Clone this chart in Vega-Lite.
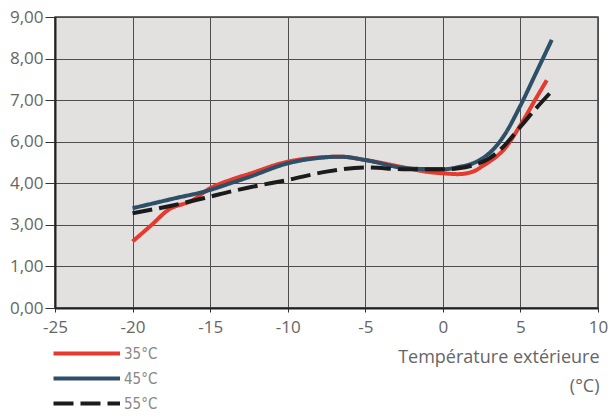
{
  "$schema": "https://vega.github.io/schema/vega-lite/v6.json",
  "width": 543,
  "height": 291,
  "autosize": {"type": "none"},
  "padding": {"left": 55, "top": 17, "right": 11, "bottom": 110},
  "background": "white",
  "config": {
    "view": {"fill": "#e3e1df", "stroke": "#3a3a3a", "strokeWidth": 1.5},
    "font": "Open Sans"
  },
  "data": {
    "values": [
      {"t": -20, "cop": 2.2, "serie": "35°C"},
      {"t": -18.8, "cop": 2.98, "serie": "35°C"},
      {"t": -17.7, "cop": 3.36, "serie": "35°C"},
      {"t": -16.2, "cop": 3.58, "serie": "35°C"},
      {"t": -15, "cop": 3.88, "serie": "35°C"},
      {"t": -13.7, "cop": 4.16, "serie": "35°C"},
      {"t": -12.5, "cop": 4.45, "serie": "35°C"},
      {"t": -10, "cop": 5.04, "serie": "35°C"},
      {"t": -8, "cop": 5.24, "serie": "35°C"},
      {"t": -6.6, "cop": 5.28, "serie": "35°C"},
      {"t": -5, "cop": 5.12, "serie": "35°C"},
      {"t": -2.75, "cop": 4.8, "serie": "35°C"},
      {"t": -1, "cop": 4.55, "serie": "35°C"},
      {"t": 0, "cop": 4.48, "serie": "35°C"},
      {"t": 1, "cop": 4.44, "serie": "35°C"},
      {"t": 2, "cop": 4.58, "serie": "35°C"},
      {"t": 2.6, "cop": 4.85, "serie": "35°C"},
      {"t": 3, "cop": 5.04, "serie": "35°C"},
      {"t": 4, "cop": 5.68, "serie": "35°C"},
      {"t": 5, "cop": 6.4, "serie": "35°C"},
      {"t": 6, "cop": 7.04, "serie": "35°C"},
      {"t": 6.7, "cop": 7.48, "serie": "35°C"},

      {"t": -20, "cop": 3.4, "serie": "45°C"},
      {"t": -17.5, "cop": 3.62, "serie": "45°C"},
      {"t": -15, "cop": 3.84, "serie": "45°C"},
      {"t": -13.7, "cop": 4.0, "serie": "45°C"},
      {"t": -12.5, "cop": 4.3, "serie": "45°C"},
      {"t": -10, "cop": 4.96, "serie": "45°C"},
      {"t": -8, "cop": 5.22, "serie": "45°C"},
      {"t": -6.6, "cop": 5.28, "serie": "45°C"},
      {"t": -5, "cop": 5.12, "serie": "45°C"},
      {"t": -2.3, "cop": 4.72, "serie": "45°C"},
      {"t": 0, "cop": 4.67, "serie": "45°C"},
      {"t": 1, "cop": 4.78, "serie": "45°C"},
      {"t": 2, "cop": 4.98, "serie": "45°C"},
      {"t": 2.6, "cop": 5.22, "serie": "45°C"},
      {"t": 3, "cop": 5.45, "serie": "45°C"},
      {"t": 4, "cop": 6.18, "serie": "45°C"},
      {"t": 5, "cop": 6.87, "serie": "45°C"},
      {"t": 6, "cop": 7.65, "serie": "45°C"},
      {"t": 7.02, "cop": 8.45, "serie": "45°C"},

      {"t": -20, "cop": 3.28, "serie": "55°C"},
      {"t": -17.5, "cop": 3.46, "serie": "55°C"},
      {"t": -15, "cop": 3.68, "serie": "55°C"},
      {"t": -13.7, "cop": 3.8, "serie": "55°C"},
      {"t": -12.5, "cop": 3.9, "serie": "55°C"},
      {"t": -10, "cop": 4.16, "serie": "55°C"},
      {"t": -7.5, "cop": 4.56, "serie": "55°C"},
      {"t": -5, "cop": 4.76, "serie": "55°C"},
      {"t": -2.3, "cop": 4.67, "serie": "55°C"},
      {"t": 0, "cop": 4.67, "serie": "55°C"},
      {"t": 1, "cop": 4.72, "serie": "55°C"},
      {"t": 2, "cop": 4.88, "serie": "55°C"},
      {"t": 3, "cop": 5.2, "serie": "55°C"},
      {"t": 4, "cop": 5.84, "serie": "55°C"},
      {"t": 5, "cop": 6.36, "serie": "55°C"},
      {"t": 6, "cop": 6.8, "serie": "55°C"},
      {"t": 7.13, "cop": 7.26, "serie": "55°C"}
    ]
  },
  "mark": {"type": "line", "interpolate": "monotone", "strokeWidth": 4, "strokeCap": "butt"},
  "encoding": {
    "x": {
      "field": "t",
      "type": "quantitative",
      "scale": {"domain": [-25, 10], "nice": false, "zero": false},
      "axis": {
        "values": [-25, -20, -15, -10, -5, 0, 5, 10],
        "labelExpr": "'' + datum.value",
        "labelFont": "Open Sans",
        "labelFontSize": 17,
        "labelColor": "#666666",
        "labelFlush": false,
        "tickSize": 4,
        "tickColor": "#333333",
        "labelPadding": 7,
        "domainColor": "#222222",
        "domainWidth": 2,
        "gridColor": "#4d4d4d",
        "gridWidth": 1,
        "gridOpacity": 1,
        "title": ["Température extérieure", "(°C)"],
        "titleFont": "Open Sans",
        "titleFontSize": 18,
        "titleFontWeight": "normal",
        "titleColor": "#666666",
        "titleAnchor": "end",
        "titleAlign": "right",
        "titleX": 544,
        "titleY": 54,
        "titleBaseline": "alphabetic",
        "titleLineHeight": 29
      }
    },
    "y": {
      "field": "cop",
      "type": "quantitative",
      "scale": {
        "domain": [0, 1, 3, 4, 6, 7, 8, 9],
        "range": [291, 249.43, 207.86, 166.29, 124.71, 83.14, 41.57, 0]
      },
      "axis": {
        "values": [0, 1, 3, 4, 6, 7, 8, 9],
        "labelExpr": "replace(format(datum.value, '.2f'), '.', ',')",
        "labelFont": "Open Sans",
        "labelFontSize": 17,
        "labelColor": "#666666",
        "tickSize": 10,
        "tickColor": "#333333",
        "labelPadding": 2,
        "domainColor": "#222222",
        "domainWidth": 2,
        "gridColor": "#4d4d4d",
        "gridWidth": 1,
        "gridOpacity": 1,
        "title": null
      }
    },
    "color": {
      "field": "serie",
      "type": "nominal",
      "scale": {"domain": ["35°C", "45°C", "55°C"], "range": ["#e63a2e", "#2d4f68", "#1b1b1b"]},
      "legend": {
        "title": null,
        "orient": "none",
        "legendX": -4,
        "legendY": 329,
        "padding": 0,
        "offset": 0,
        "symbolType": "M-1,0H12.3",
        "symbolSize": 100,
        "symbolStrokeWidth": 4,
        "labelOffset": 58,
        "labelFont": "DejaVu Sans Condensed",
        "labelFontSize": 15,
        "labelColor": "#888888",
        "rowPadding": 8
      }
    },
    "strokeDash": {
      "field": "serie",
      "type": "nominal",
      "scale": {"domain": ["35°C", "45°C", "55°C"], "range": [[1, 0], [1, 0], [20, 7]]},
      "legend": {
        "title": null,
        "orient": "none",
        "legendX": -4,
        "legendY": 329,
        "padding": 0,
        "offset": 0,
        "symbolType": "M-1,0H12.3",
        "symbolSize": 100,
        "symbolStrokeWidth": 4,
        "labelOffset": 58,
        "labelFont": "DejaVu Sans Condensed",
        "labelFontSize": 15,
        "labelColor": "#888888",
        "rowPadding": 8
      }
    }
  }
}
